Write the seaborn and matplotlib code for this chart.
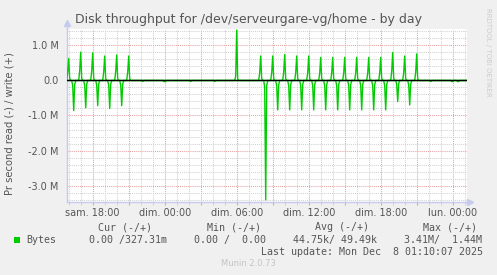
import numpy as np
import pandas as pd
import matplotlib
matplotlib.use("Agg")
import matplotlib.pyplot as plt
import matplotlib.dates as mdates
from matplotlib.ticker import FuncFormatter, MultipleLocator, FixedLocator, FixedFormatter
from matplotlib.patches import Rectangle
import seaborn as sns

# ---------------- data (values in M bytes/s, 5-minute samples) ----------------
title = "Disk throughput for /dev/serveurgare-vg/home - by day"
y_label = "Pr second read (-) / write (+)"
series_name = "Bytes"

range_start = "2025-12-06 15:50"
range_end = "2025-12-08 01:10"
view_start = "2025-12-06 15:51:30"
view_end = "2025-12-08 01:11:30"

# write spikes: time of peak sample, previous sample, peak, next sample
write_times = ["2025-12-06 16:00", "2025-12-06 17:00", "2025-12-06 18:00", "2025-12-06 19:00",
               "2025-12-06 20:00", "2025-12-06 21:00", "2025-12-07 06:00", "2025-12-07 08:00",
               "2025-12-07 09:00", "2025-12-07 10:00", "2025-12-07 11:00", "2025-12-07 12:00",
               "2025-12-07 13:00", "2025-12-07 14:00", "2025-12-07 15:00", "2025-12-07 16:00",
               "2025-12-07 17:00", "2025-12-07 18:00", "2025-12-07 19:00", "2025-12-07 20:00",
               "2025-12-07 21:00"]
write_pre = [0.25, 0.28, 0.27, 0.24, 0.25, 0.24, 0.12, 0.22, 0.22, 0.24, 0.22, 0.22,
             0.21, 0.21, 0.21, 0.21, 0.21, 0.21, 0.26, 0.22, 0.24]
write_peak = [0.63, 0.81, 0.79, 0.70, 0.73, 0.70, 1.44, 0.70, 0.70, 0.74, 0.70, 0.70,
              0.66, 0.66, 0.66, 0.66, 0.66, 0.66, 0.80, 0.70, 0.76]
write_post = [0.05, 0.06, 0.06, 0.05, 0.05, 0.05, 0.04, 0.05, 0.05, 0.05, 0.05, 0.05,
              0.05, 0.05, 0.05, 0.05, 0.05, 0.05, 0.06, 0.05, 0.05]

# read spikes (plotted downward)
read_times = ["2025-12-06 16:25", "2025-12-06 17:25", "2025-12-06 18:25", "2025-12-06 19:25",
              "2025-12-06 20:25", "2025-12-07 08:25", "2025-12-07 09:25", "2025-12-07 10:25",
              "2025-12-07 11:25", "2025-12-07 12:25", "2025-12-07 13:25", "2025-12-07 14:25",
              "2025-12-07 15:25", "2025-12-07 16:25", "2025-12-07 17:25", "2025-12-07 18:25",
              "2025-12-07 19:25", "2025-12-07 20:25"]
read_pre = [0.15, 0.14, 0.13, 0.14, 0.13, 0.20, 0.15, 0.15, 0.15, 0.15, 0.15, 0.15,
            0.15, 0.15, 0.15, 0.15, 0.11, 0.13]
read_peak = [0.86, 0.78, 0.72, 0.80, 0.72, 3.41, 0.84, 0.84, 0.84, 0.84, 0.84, 0.84,
             0.84, 0.84, 0.84, 0.84, 0.60, 0.70]
read_post = [0.12, 0.11, 0.10, 0.11, 0.10, 0.15, 0.12, 0.12, 0.12, 0.12, 0.12, 0.12,
             0.12, 0.12, 0.12, 0.12, 0.09, 0.10]

# small read blips
blip_times = ["2025-12-06 22:10", "2025-12-06 23:55", "2025-12-07 00:00", "2025-12-07 00:05",
              "2025-12-07 02:10", "2025-12-07 04:10", "2025-12-07 22:10", "2025-12-07 23:55",
              "2025-12-08 00:00", "2025-12-08 00:25", "2025-12-08 00:30"]
blip_vals = [0.03, 0.03, 0.03, 0.03, 0.03, 0.03, 0.03, 0.03, 0.03, 0.03, 0.03]

x_tick_times = ["2025-12-06 18:00", "2025-12-07 00:00", "2025-12-07 06:00",
                "2025-12-07 12:00", "2025-12-07 18:00", "2025-12-08 00:00"]
x_tick_labels = ["sam. 18:00", "dim. 00:00", "dim. 06:00", "dim. 12:00", "dim. 18:00", "lun. 00:00"]
y_tick_vals = [-3.0, -2.0, -1.0, 0.0, 1.0]
y_tick_labels = ["-3.0 M", "-2.0 M", "-1.0 M", "0.0", "1.0 M"]

legend_headers = ["Cur (-/+)", "Min (-/+)", "Avg (-/+)", "Max (-/+)"]
legend_values = ["0.00 /327.31m", "0.00 /  0.00", "44.75k/ 49.49k", "3.41M/  1.44M"]
last_update = "Last update: Mon Dec  8 01:10:07 2025"
footer = "Munin 2.0.73"
side_text = "RRDTOOL / TOBI OETIKER"

# ---------------- build series ----------------
idx = pd.date_range(range_start, range_end, freq="5min")
write = pd.Series(0.0, index=idx)
read = pd.Series(0.0, index=idx)
step = pd.Timedelta("5min")
for t, a, b, c in zip(write_times, write_pre, write_peak, write_post):
    t = pd.Timestamp(t)
    write[t - step] = a
    write[t] = b
    write[t + step] = c
for t, a, b, c in zip(read_times, read_pre, read_peak, read_post):
    t = pd.Timestamp(t)
    read[t - step] = a
    read[t] = b
    read[t + step] = c
for t, v in zip(blip_times, blip_vals):
    read[pd.Timestamp(t)] = v

df_w = pd.DataFrame({"time": idx, "value": write.values})
df_r = pd.DataFrame({"time": idx, "value": -read.values})

# ---------------- figure ----------------
W, H = 497, 275
GREEN = "#00CC00"
TXT = "#555555"
AXC = "#C6CAEE"

fig = plt.figure(figsize=(W / 100, H / 100), dpi=100, facecolor="#F0F0F0")
ax = fig.add_axes([67 / W, 1 - 202 / H, 400 / W, 173 / H])
ax.set_facecolor("white")

sns.lineplot(data=df_w, x="time", y="value", ax=ax, color=GREEN, lw=1.0, estimator=None, zorder=3)
sns.lineplot(data=df_r, x="time", y="value", ax=ax, color=GREEN, lw=1.0, estimator=None, zorder=3)
ax.axhline(0, color="black", lw=1.0, zorder=4)

ax.set_xlim(pd.Timestamp(view_start), pd.Timestamp(view_end))
ax.set_ylim(-3.47, 1.47)

# x ticks/grid
ax.xaxis.set_major_locator(mdates.HourLocator(byhour=range(0, 24, 3)))
ax.xaxis.set_minor_locator(mdates.HourLocator(interval=1))
label_map = {round(mdates.date2num(pd.Timestamp(t)), 4): l for t, l in zip(x_tick_times, x_tick_labels)}
ax.xaxis.set_major_formatter(FuncFormatter(lambda v, p: label_map.get(round(v, 4), "")))
ax.xaxis.set_minor_formatter(FuncFormatter(lambda v, p: ""))

# y ticks/grid
ax.yaxis.set_major_locator(FixedLocator(y_tick_vals))
ax.yaxis.set_major_formatter(FixedFormatter(y_tick_labels))
ax.yaxis.set_minor_locator(MultipleLocator(0.2))

dot = (0, (1, 1))
ax.grid(which="minor", color="#D2D2D2", ls=dot, lw=0.75)
ax.grid(which="major", color="#E6A2A2", ls=dot, lw=0.75)
ax.set_axisbelow(True)

ax.tick_params(axis="x", which="major", length=2, color="#E6A2A2", labelsize=7, labelcolor=TXT, pad=2.5)
ax.tick_params(axis="x", which="minor", length=2, color="#CCCCCC")
ax.tick_params(axis="y", which="both", length=0, labelsize=7, labelcolor=TXT, pad=6)

for s in ["top", "right"]:
    ax.spines[s].set_visible(False)
for s in ["left", "bottom"]:
    ax.spines[s].set_color(AXC)
    ax.spines[s].set_linewidth(1.0)
ax.set_xlabel("")
ax.set_ylabel("")

# axis arrows
ax.plot([0, 0], [1, 1.035], transform=ax.transAxes, color=AXC, lw=1.0, clip_on=False)
ax.plot([0], [1.035], marker="^", ms=4, color=AXC, transform=ax.transAxes, clip_on=False)
ax.plot([1, 1.008], [0, 0], transform=ax.transAxes, color=AXC, lw=1.0, clip_on=False)
ax.plot([1.008], [0], marker=">", ms=4, color=AXC, transform=ax.transAxes, clip_on=False)

def px(x, y):
    return x / W, 1 - y / H

fig.text(*px(248.5, 19), title, ha="center", va="center", fontsize=9, color=TXT)
fig.text(*px(10, 124), y_label, ha="center", va="center", rotation=90, fontsize=7.2, color=TXT)
fig.text(*px(488, 52), side_text, ha="center", va="center", rotation=270, fontsize=5, color="#CCCCCC")

MONO = "DejaVu Sans Mono"
fs = 7.2
header_x = [98.3, 206.7, 315, 422.7]
for x, h in zip(header_x, legend_headers):
    fig.text(*px(x, 227.5), h, ha="left", va="center", family=MONO, fontsize=fs, color=TXT)
fig.patches.append(Rectangle(px(14, 243), 6 / W, 6 / H, transform=fig.transFigure,
                             facecolor=GREEN, edgecolor="none"))
fig.text(*px(26.7, 240), series_name, ha="left", va="center", family=MONO, fontsize=fs, color=TXT)
value_x = [89.3, 194.3, 293.3, 404]
for x, v in zip(value_x, legend_values):
    fig.text(*px(x, 240), v, ha="left", va="center", family=MONO, fontsize=fs, color=TXT)
fig.text(*px(483, 252), last_update, ha="right", va="center", family=MONO, fontsize=fs, color=TXT)
fig.text(*px(248, 264), footer, ha="center", va="center", fontsize=6, color="#C4C4C4")

fig.savefig("out.png", dpi=100, facecolor=fig.get_facecolor())
